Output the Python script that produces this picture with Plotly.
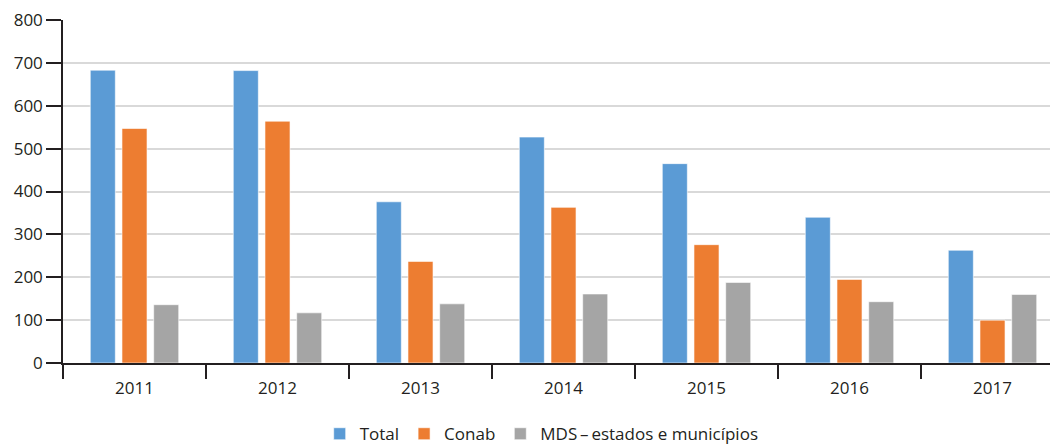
import plotly.graph_objects as go

years = ["2011", "2012", "2013", "2014", "2015", "2016", "2017"]
total = [683, 682, 376, 527, 465, 340, 263]
conab = [547, 564, 237, 363, 276, 195, 100]
mds = [136, 117, 138, 161, 188, 143, 160]
series_names = ["Total", "Conab", "MDS\u2009\u2013\u2009estados e municípios"]
colors = ["#5B9BD5", "#ED7D31", "#A5A5A5"]
y_ticks = [0, 100, 200, 300, 400, 500, 600, 700, 800]

fig = go.Figure()
for name, vals, col in zip(series_names, [total, conab, mds], colors):
    fig.add_trace(go.Bar(
        x=years, y=vals, name=name,
        marker=dict(color=col, line=dict(color="rgba(255,255,255,0.6)", width=1)),
    ))

font_family = "Open Sans, Noto Sans, DejaVu Sans, sans-serif"
fig.update_layout(
    width=1053, height=460,
    margin=dict(l=63, r=3, t=20, b=97),
    paper_bgcolor="white", plot_bgcolor="white",
    barmode="group", bargap=0.335, bargroupgap=0.21,
    font=dict(family=font_family, size=17, color="#231F20"),
    showlegend=True,
    legend=dict(orientation="h", x=0.485, xanchor="center", y=-0.26, yanchor="bottom",
                font=dict(size=17), itemwidth=30, traceorder="normal"),
    xaxis=dict(
        type="category", range=[-0.5, 6.402], automargin=False,
        showline=True, linecolor="#231F20", linewidth=1.5,
        ticks="outside", tickson="boundaries", ticklen=14, tickcolor="#231F20", tickwidth=1.5,
        showgrid=False, tickfont=dict(size=17), ticklabelstandoff=9,
    ),
    yaxis=dict(
        range=[0, 800], tickvals=y_ticks, automargin=False,
        showline=True, linecolor="#231F20", linewidth=1.5,
        ticks="outside", ticklen=15, tickcolor="#231F20", tickwidth=1.5,
        showgrid=True, gridcolor="#D9D9D9", gridwidth=1.5,
        zeroline=False, tickfont=dict(size=17),
    ),
)

fig.write_html("out.html", config={"displayModeBar": False},
               post_script="document.body.style.margin='0';document.body.style.overflow='hidden';")
